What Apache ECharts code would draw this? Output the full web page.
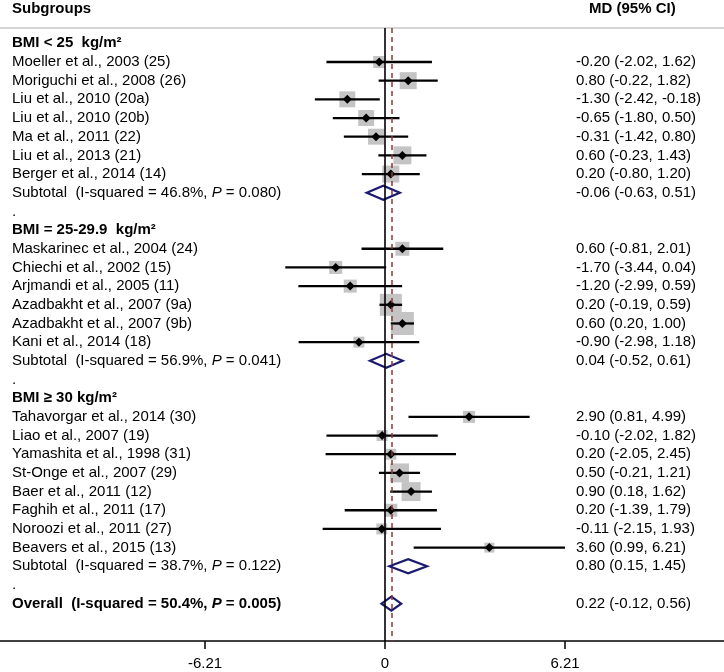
<!DOCTYPE html>
<html><head><meta charset="utf-8">
<script src="https://cdn.jsdelivr.net/npm/echarts@6/dist/echarts.min.js"></script>
<style>html,body{margin:0;padding:0;background:#fff}#c{width:724px;height:672px}</style>
</head><body><div id="c"></div>
<script>
// ---------- data ----------
const groupTitles = ['BMI < 25  kg/m\u00b2', 'BMI = 25-29.9  kg/m\u00b2', 'BMI \u2265 30 kg/m\u00b2'];
const studyNames = [
  'Moeller et al., 2003 (25)', 'Moriguchi et al., 2008 (26)', 'Liu et al., 2010 (20a)', 'Liu et al., 2010 (20b)',
  'Ma et al., 2011 (22)', 'Liu et al., 2013 (21)', 'Berger et al., 2014 (14)',
  'Maskarinec et al., 2004 (24)', 'Chiechi et al., 2002 (15)', 'Arjmandi et al., 2005 (11)',
  'Azadbakht et al., 2007 (9a)', 'Azadbakht et al., 2007 (9b)', 'Kani et al., 2014 (18)',
  'Tahavorgar et al., 2014 (30)', 'Liao et al., 2007 (19)', 'Yamashita et al., 1998 (31)', 'St-Onge et al., 2007 (29)',
  'Baer et al., 2011 (12)', 'Faghih et al., 2011 (17)', 'Noroozi et al., 2011 (27)', 'Beavers et al., 2015 (13)'
];
const studyGroup = [0,0,0,0,0,0,0, 1,1,1,1,1,1, 2,2,2,2,2,2,2,2];
const studyMD = [-0.20, 0.80, -1.30, -0.65, -0.31, 0.60, 0.20, 0.60, -1.70, -1.20, 0.20, 0.60, -0.90, 2.90, -0.10, 0.20, 0.50, 0.90, 0.20, -0.11, 3.60];
const studyLo = [-2.02, -0.22, -2.42, -1.80, -1.42, -0.23, -0.80, -0.81, -3.44, -2.99, -0.19, 0.20, -2.98, 0.81, -2.02, -2.05, -0.21, 0.18, -1.39, -2.15, 0.99];
const studyHi = [1.62, 1.82, -0.18, 0.50, 0.80, 1.43, 1.20, 2.01, 0.04, 0.59, 0.59, 1.00, 1.18, 4.99, 1.82, 2.45, 1.21, 1.62, 1.79, 1.93, 6.21];
const studyWeight = [2.9, 5.8, 5.1, 5.1, 5.1, 6.5, 5.8, 3.9, 3.4, 3.4, 9.7, 10.6, 2.4, 2.9, 2.4, 2.4, 7.2, 7.2, 3.4, 2.4, 2.0];
const subMD = [-0.06, 0.04, 0.80];
const subLo = [-0.63, -0.52, 0.15];
const subHi = [0.51, 0.61, 1.45];
const subI2 = ['46.8%', '56.9%', '38.7%'];
const subP = ['0.080', '0.041', '0.122'];
const overallMD = 0.22, overallLo = -0.12, overallHi = 0.56, overallI2 = '50.4%', overallP = '0.005';
const xTicks = [-6.21, 0, 6.21];

// ---------- build rows ----------
const FONT = "'Liberation Sans', Arial, Helvetica, sans-serif";
const fmt = (m, l, h) => `${m.toFixed(2)} (${l.toFixed(2)}, ${h.toFixed(2)})`;
const textRows = [];
const leftTexts = [], rightTexts = [];
const studyData = [], diamondData = [];
let r = 0;
groupTitles.forEach((g, gi) => {
  textRows.push([r]); leftTexts.push(`{hb|${g}}`); rightTexts.push(''); r++;
  studyNames.forEach((n, i) => {
    if (studyGroup[i] !== gi) return;
    textRows.push([r]); leftTexts.push(`{n|${n}}`); rightTexts.push(fmt(studyMD[i], studyLo[i], studyHi[i]));
    studyData.push([r, studyMD[i], studyLo[i], studyHi[i], studyWeight[i]]);
    r++;
  });
  textRows.push([r]); leftTexts.push(`{n|Subtotal  (I-squared = ${subI2[gi]}, }{i|P}{n| = ${subP[gi]})}`);
  rightTexts.push(fmt(subMD[gi], subLo[gi], subHi[gi]));
  diamondData.push([r, subMD[gi], subLo[gi], subHi[gi]]); r++;
  textRows.push([r]); leftTexts.push('{n|.}'); rightTexts.push(''); r++;
});
textRows.push([r]); leftTexts.push(`{b|Overall  (I-squared = ${overallI2}, }{bi|P}{b| = ${overallP})}`);
rightTexts.push(fmt(overallMD, overallLo, overallHi));
diamondData.push([r, overallMD, overallLo, overallHi]);

const rich = {
  n: {fontFamily: FONT, fontSize: 15, color: '#000'},
  i: {fontFamily: FONT, fontSize: 15, color: '#000', fontStyle: 'italic'},
  b: {fontFamily: FONT, fontSize: 15, color: '#000', fontWeight: 'bold'},
  bi: {fontFamily: FONT, fontSize: 15, color: '#000', fontWeight: 'bold', fontStyle: 'italic'},
  hb: {fontFamily: FONT, fontSize: 15, color: '#000', fontWeight: 'bold'}
};

const chart = echarts.init(document.getElementById('c'), null, {renderer: 'canvas'});
const XMIN = -13.283, XMAX = 11.696;
chart.setOption({
  animation: false,
  backgroundColor: '#fff',
  grid: {left: 0, right: 0, top: 28, bottom: 31, containLabel: false},
  xAxis: [{
    type: 'value', position: 'bottom', min: XMIN, max: XMAX,
    splitLine: {show: false},
    axisLine: {show: true, onZero: false, lineStyle: {color: '#000', width: 1.5}},
    axisTick: {show: true, customValues: xTicks, length: 8, lineStyle: {color: '#000', width: 1.5}},
    axisLabel: {show: true, customValues: xTicks, margin: 15, fontFamily: FONT, fontSize: 15, color: '#000',
      formatter: v => String(v)}
  }, {
    type: 'value', position: 'top', min: XMIN, max: XMAX,
    splitLine: {show: false},
    axisLine: {show: true, onZero: false, lineStyle: {color: '#d4d4d4', width: 2}},
    axisTick: {show: false}, axisLabel: {show: false}
  }],
  yAxis: {type: 'value', inverse: true, min: -0.82, max: 32.0, show: false},
  graphic: [
    {type: 'text', left: 12, top: 1, style: {text: 'Subgroups', font: `bold 15px ${FONT}`, fill: '#000'}},
    {type: 'text', left: 589, top: 1, style: {text: 'MD (95% CI)', font: `bold 15px ${FONT}`, fill: '#000'}}
  ],
  series: [
    {
      type: 'custom', name: 'studies', data: studyData, z: 2,
      renderItem: (params, api) => {
        const row = api.value(0);
        const pM = api.coord([api.value(1), row]);
        const pL = api.coord([api.value(2), row]);
        const pH = api.coord([api.value(3), row]);
        const s = 7.06 * Math.sqrt(api.value(4));
        const d = 4.5;
        return {type: 'group', children: [
          {type: 'rect', shape: {x: pM[0] - s / 2, y: pM[1] - s / 2, width: s, height: s}, style: {fill: '#c4c4c4'}},
          {type: 'line', shape: {x1: pL[0], y1: pL[1], x2: pH[0], y2: pH[1]}, style: {stroke: '#000', lineWidth: 2.3}},
          {type: 'polygon', shape: {points: [[pM[0] - d, pM[1]], [pM[0], pM[1] - d], [pM[0] + d, pM[1]], [pM[0], pM[1] + d]]}, style: {fill: '#000'}}
        ]};
      }
    },
    {
      type: 'custom', name: 'pooled', data: diamondData, z: 4,
      renderItem: (params, api) => {
        const row = api.value(0);
        const pM = api.coord([api.value(1), row]);
        const pL = api.coord([api.value(2), row]);
        const pH = api.coord([api.value(3), row]);
        const h = 7;
        return {type: 'polygon', shape: {points: [[pL[0], pL[1]], [pM[0], pM[1] - h], [pH[0], pH[1]], [pM[0], pM[1] + h]]},
          style: {fill: 'rgba(0,0,0,0)', stroke: '#1a1a6e', lineWidth: 2.2}};
      }
    },
    {
      type: 'custom', name: 'labels', data: textRows, z: 5, silent: true,
      renderItem: (params, api) => {
        const row = api.value(0);
        const y = api.coord([0, row])[1];
        const x0 = api.coord([XMIN, row])[0];
        const children = [{type: 'text', x: x0 + 12, y: y,
          style: {text: leftTexts[params.dataIndex], rich: rich, verticalAlign: 'middle', align: 'left'}}];
        if (rightTexts[params.dataIndex]) {
          children.push({type: 'text', x: x0 + 576, y: y,
            style: {text: rightTexts[params.dataIndex], fontFamily: FONT, fontSize: 15, fill: '#000', verticalAlign: 'middle', align: 'left'}});
        }
        return {type: 'group', children};
      }
    },
    {
      type: 'line', data: [], z: 3,
      markLine: {
        silent: true, symbol: 'none', label: {show: false},
        data: [
          {xAxis: 0, lineStyle: {color: '#000', width: 1.6, type: 'solid'}},
          {xAxis: overallMD, lineStyle: {color: '#90353b', width: 1.5, type: [5, 4]}}
        ]
      }
    }
  ]
});
</script>
</body></html>
